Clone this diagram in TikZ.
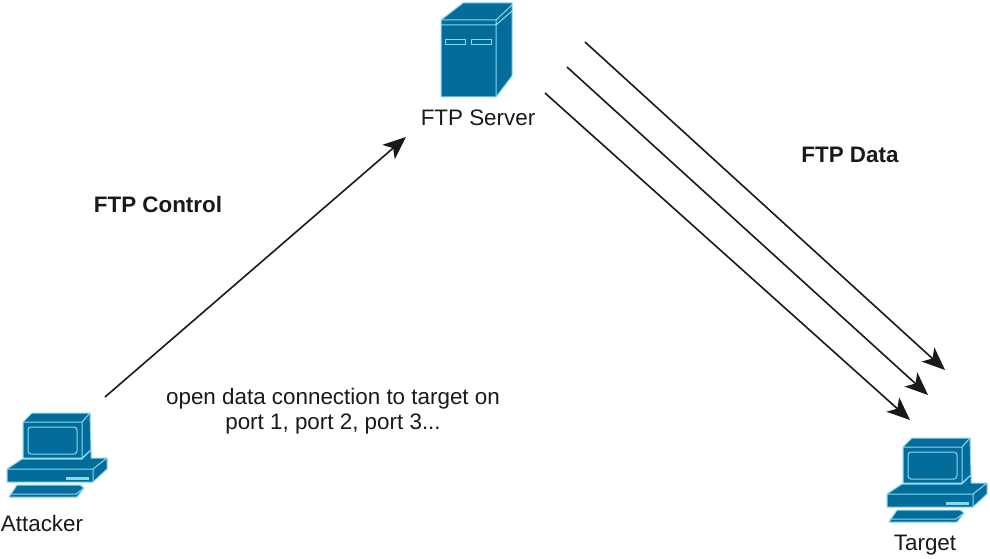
\documentclass[tikz,border=0pt]{standalone}
\usepackage{fontspec}
\setmainfont{Liberation Sans}
\usetikzlibrary{arrows.meta, positioning}
\definecolor{ciscoblue}{HTML}{036C9B}
\definecolor{ciscoline}{HTML}{8ADAEC}
\tikzset{
    every node/.style={font=\fontsize{22.4}{25}\selectfont, text=black!90},
    iconface/.style={fill=ciscoblue, draw=ciscoline, line width=1pt, line join=round},
    iconline/.style={draw=ciscoline, line width=1pt},
    link/.style={-{Stealth[length=23pt, width=19pt, inset=6pt]}, line width=1.6pt, black!90},
    pics/computer/.style={code={
        % monitor
        \draw[iconface] (23, 22) -- (32, 13) -- (90, 13) -- (91, 50) -- (82, 58) -- (23, 58) -- cycle;
        \draw[iconline] (23, 22) -- (82, 22) -- (90, 13) (82, 22) -- (82, 58);
        \draw[iconline, rounded corners=3pt] (28, 27) rectangle (77, 54);
        % base
        \draw[iconface] (7, 69) -- (22, 59) -- (82, 59) -- (91, 50) -- (91, 58) -- (107, 58) -- (107, 69) -- (93, 82) -- (7, 82) -- cycle;
        \draw[iconline] (7, 69) -- (93, 69) -- (107, 58) (93, 69) -- (93, 82);
        \draw[iconline, fill=ciscoline] (66, 77) rectangle (88, 79);
        % keyboard
        \draw[iconface] (17, 85) -- (80, 85) -- (84, 88) -- (77, 97) -- (9, 97) -- cycle;
        \draw[iconline] (9, 94) -- (76, 94) -- (84, 88);
    }}
}
\begin{document}
\begin{tikzpicture}[x=1pt, y=-1pt]
    \useasboundingbox (0, 0) rectangle (990, 559);

    % server
    \draw[iconface] (441, 20) -- (463, 3) -- (512, 3) -- (512, 76) -- (496, 97) -- (441, 97) -- cycle;
    \draw[iconline] (441, 20) -- (496, 20) -- (512, 5) (441, 25) -- (496, 25) -- (512, 11) (496, 20) -- (496, 97);
    \draw[iconline] (445, 40) rectangle (465, 45) (471, 40) rectangle (491, 45);

    \pic at (0, 400) {computer};
    \pic at (880, 425) {computer};

    \node (server) at (478, 118) {FTP Server};
    \node (attacker) at (42, 523) {Attacker};
    \node (target) at (925, 545) {Target};
    \node (control) at (158, 204) {\bfseries FTP Control};
    \node (data) at (850, 155) {\bfseries FTP Data};
    \node[align=center] (note) at (333, 411) {open data connection to target on\\port 1, port 2, port 3...};

    \coordinate (ctrlfrom) at (105, 397);
    \coordinate (ctrlto) at (406, 137);
    \coordinate (datafroma) at (585, 42);
    \coordinate (datatoa) at (945, 370);
    \coordinate (datafromb) at (567, 67);
    \coordinate (datatob) at (928, 395);
    \coordinate (datafromc) at (545, 93);
    \coordinate (datatoc) at (910, 420);

    \draw[link] (ctrlfrom) -- (ctrlto);
    \draw[link] (datafroma) -- (datatoa);
    \draw[link] (datafromb) -- (datatob);
    \draw[link] (datafromc) -- (datatoc);
\end{tikzpicture}
\end{document}
